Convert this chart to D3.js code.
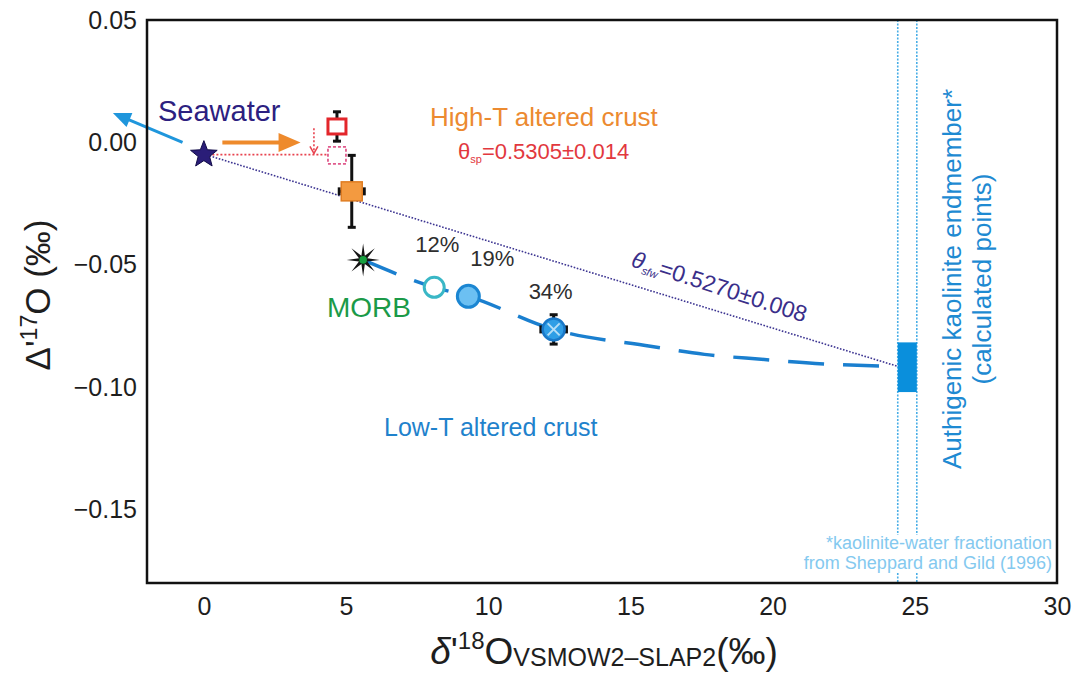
<!DOCTYPE html>
<html>
<head>
<meta charset="utf-8">
<script src="https://cdn.jsdelivr.net/npm/d3@7"></script>
<style>
body { margin: 0; background: #fff; }
svg { display: block; font-family: "Liberation Sans", Arial, sans-serif; }
</style>
</head>
<body>
<svg width="1077" height="675"></svg>
<script>
// values: x = δ'18O (‰), y = Δ'17O (‰)
const xDomain = [-2, 30];
const yDomain = [-0.18, 0.05];
const xTicks = [0, 5, 10, 15, 20, 25, 30];
const yTicks = [0.05, 0, -0.05, -0.10, -0.15];

const seawater = [0, -0.005];
const seawaterArrow = [[-0.75, 0.0], [-3.2, 0.012]];
const highTArrow = [[0.65, 0.0], [3.4, 0.0]];
const highTShift = [[3.87, 0.0058], [3.87, -0.0045]];
const highTMeasured = [4.68, 0.0065, 0.006];      // x, y, ±y
const highTCorrected = [4.68, -0.0053];
const highTCrust = [5.2, -0.020, 0.44, 0.0147];   // x, y, ±x, ±y
const morb = [5.6, -0.048];
const lowTLabels = ["12%", "19%", "34%"];
const lowTX = [8.1, 9.3, 12.3];
const lowTY = [-0.0592, -0.0629, -0.0764];
const lowTErr = [0.45, 0.006];                     // ±x, ±y of the 34% point
const mixingCurve = [[5.6, -0.048], [8.1, -0.0592], [9.3, -0.0629], [12.3, -0.0764],
  [15.7, -0.0833], [17.6, -0.0866], [19.6, -0.0886], [21.5, -0.0903], [24.05, -0.0915]];
const kaoliniteX = [24.4, 25.07];
const kaoliniteY = [-0.102, -0.0817];
const thetaLine = [[0.2, -0.0055], [24.4, -0.0915]];
const redGuide = [[0.3, -0.005], [4.35, -0.005]];

const svg = d3.select("svg");
const x = d3.scaleLinear().domain(xDomain).range([147, 1057]);
const y = d3.scaleLinear().domain(yDomain).range([583, 20]);

///////////////////////////////////////////////// axes
const xAxis = svg.append("g")
    .attr("transform", `translate(0,${y.range()[0]})`)
    .call(d3.axisBottom(x).tickValues(xTicks).tickSize(0).tickPadding(14))
    .attr("font-family", null).attr("font-size", 25);
xAxis.select(".domain").remove();
xAxis.selectAll("text").attr("fill", "#1e1e1e");

const yAxis = svg.append("g")
    .attr("transform", `translate(${x.range()[0]},0)`)
    .call(d3.axisLeft(y).tickValues(yTicks).tickFormat(d3.format(".2f")).tickSize(0).tickPadding(10))
    .attr("font-family", null).attr("font-size", 25);
yAxis.select(".domain").remove();
yAxis.selectAll("text").attr("fill", "#1e1e1e");

const xTitle = svg.append("text")
    .attr("x", 604).attr("y", 664)
    .attr("text-anchor", "middle").attr("fill", "#1e1e1e").attr("font-size", 37);
xTitle.append("tspan").attr("font-style", "italic").text("δ");
xTitle.append("tspan").text("'");
xTitle.append("tspan").attr("font-size", 24).attr("dy", -15).text("18");
xTitle.append("tspan").attr("dy", 15).text("O");
xTitle.append("tspan").attr("font-size", 25).attr("dy", 2).text("VSMOW2\u2013SLAP2");
xTitle.append("tspan").attr("dy", -2).text("(‰)");

const yTitle = svg.append("text")
    .attr("transform", "translate(50,295) rotate(-90)")
    .attr("text-anchor", "middle").attr("fill", "#1e1e1e").attr("font-size", 35);
yTitle.append("tspan").text("Δ'");
yTitle.append("tspan").attr("font-size", 23).attr("dy", -13).text("17");
yTitle.append("tspan").attr("dy", 13).text("O (‰)");

///////////////////////////////////////////////// kaolinite endmember band
const band = svg.append("g");
kaoliniteX.forEach(v => {
  band.append("line")
      .attr("x1", x(v)).attr("x2", x(v))
      .attr("y1", y(yDomain[1])).attr("y2", y(yDomain[0]))
      .attr("stroke", "#49aee6").attr("stroke-width", 1.6)
      .attr("stroke-dasharray", "2,1.5");
});

const note = svg.append("g")
    .attr("font-size", 18).attr("fill", "#84c9ef").attr("text-anchor", "end");
note.append("text").attr("x", 1052).attr("y", 549).text("*kaolinite-water fractionation");
note.append("text").attr("x", 1052).attr("y", 569).text("from Sheppard and Gild (1996)");
const nb = note.node().getBBox();
note.insert("rect", "text")
    .attr("x", nb.x - 2).attr("y", nb.y + 2)
    .attr("width", nb.width + 4).attr("height", nb.height - 2)
    .attr("fill", "#fff");

band.append("rect")
    .attr("x", x(kaoliniteX[0])).attr("width", x(kaoliniteX[1]) - x(kaoliniteX[0]))
    .attr("y", y(kaoliniteY[1])).attr("height", y(kaoliniteY[0]) - y(kaoliniteY[1]))
    .attr("fill", "#0a8fdc");

///////////////////////////////////////////////// lines
const line = d3.line().x(d => x(d[0])).y(d => y(d[1]));

svg.append("path")
    .attr("d", line(thetaLine))
    .attr("fill", "none").attr("stroke", "#3d3592")
    .attr("stroke-width", 1.6).attr("stroke-dasharray", "1.6,1.6");

svg.append("path")
    .attr("d", line.curve(d3.curveMonotoneX)(mixingCurve))
    .attr("fill", "none").attr("stroke", "#1a7fcf")
    .attr("stroke-width", 3.5).attr("stroke-dasharray", "36,19");
line.curve(d3.curveLinear);

svg.append("path")
    .attr("d", line(redGuide))
    .attr("fill", "none").attr("stroke", "#e8434f")
    .attr("stroke-width", 1.6).attr("stroke-dasharray", "2,2");

// small dotted down arrow
svg.append("path")
    .attr("d", line(highTShift))
    .attr("fill", "none").attr("stroke", "#e8434f")
    .attr("stroke-width", 1.6).attr("stroke-dasharray", "2,2");
const tip = [x(highTShift[1][0]), y(highTShift[1][1])];
svg.append("path")
    .attr("d", `M${tip[0] - 4},${tip[1] - 7}L${tip[0]},${tip[1]}L${tip[0] + 4},${tip[1] - 7}`)
    .attr("fill", "none").attr("stroke", "#e8434f").attr("stroke-width", 1.5);

drawArrow(seawaterArrow, "#1f96dc", 3, 18, 15);
drawArrow(highTArrow, "#ee8a2c", 4, 22, 19);

///////////////////////////////////////////////// points
errorBars(highTMeasured[0], highTMeasured[1], 0, highTMeasured[2]);
square(highTMeasured[0], highTMeasured[1], 18, 15)
    .attr("fill", "#fff").attr("stroke", "#e3262b").attr("stroke-width", 3);

square(highTCorrected[0], highTCorrected[1], 18, 17)
    .attr("fill", "#fff").attr("stroke", "#e05a8c")
    .attr("stroke-width", 1.8).attr("stroke-dasharray", "3,2");

errorBars(highTCrust[0], highTCrust[1], highTCrust[2], highTCrust[3]);
square(highTCrust[0], highTCrust[1], 21, 19)
    .attr("fill", "#f39a40").attr("stroke", "#e07d22").attr("stroke-width", 1.5);

svg.append("path")
    .attr("transform", `translate(${x(seawater[0])},${y(seawater[1])})`)
    .attr("d", starPath(5, 14, 6))
    .attr("fill", "#2a1d78").attr("stroke", "#120c48").attr("stroke-width", 1);

svg.append("path")
    .attr("transform", `translate(${x(morb[0])},${y(morb[1])})`)
    .attr("d", starPath(8, 16.5, 4.5))
    .attr("fill", "#141414");
svg.append("circle")
    .attr("cx", x(morb[0])).attr("cy", y(morb[1])).attr("r", 3.8)
    .attr("fill", "#18a040");

errorBars(lowTX[2], lowTY[2], lowTErr[0], lowTErr[1]);
const lowTStyle = [
  {r: 10, fill: "#fff", stroke: "#3ab7c6", w: 3},
  {r: 11, fill: "#6cc0f2", stroke: "#1b86d2", w: 3},
  {r: 11, fill: "#2f9ee6", stroke: "#1a78c8", w: 2.5}
];
lowTX.forEach((v, i) => {
  svg.append("circle")
      .attr("cx", x(v)).attr("cy", y(lowTY[i])).attr("r", lowTStyle[i].r)
      .attr("fill", lowTStyle[i].fill).attr("stroke", lowTStyle[i].stroke)
      .attr("stroke-width", lowTStyle[i].w);
});
const cx34 = x(lowTX[2]), cy34 = y(lowTY[2]);
svg.append("path")
    .attr("d", `M${cx34 - 6},${cy34 - 6}L${cx34 + 6},${cy34 + 6}M${cx34 + 6},${cy34 - 6}L${cx34 - 6},${cy34 + 6}`)
    .attr("stroke", "#b5def7").attr("stroke-width", 2);

///////////////////////////////////////////////// labels
const pctOffset = [[3, -35], [24, -30], [-3, -30]];
lowTLabels.forEach((t, i) => {
  svg.append("text")
      .attr("x", x(lowTX[i]) + pctOffset[i][0]).attr("y", y(lowTY[i]) + pctOffset[i][1])
      .attr("text-anchor", "middle").attr("font-size", 22).attr("fill", "#2e2e2e")
      .text(t);
});

svg.append("text").attr("x", 158).attr("y", 121)
    .attr("font-size", 29).attr("fill", "#2c2080").text("Seawater");
svg.append("text").attr("x", 430).attr("y", 126)
    .attr("font-size", 26).attr("fill", "#ec8a30").text("High-T altered crust");
svg.append("text").attr("x", 327).attr("y", 317)
    .attr("font-size", 28).attr("fill", "#1b9a48").text("MORB");
svg.append("text").attr("x", 384).attr("y", 436)
    .attr("font-size", 25).attr("fill", "#1f82cc").text("Low-T altered crust");

const thetaSp = svg.append("text").attr("x", 458).attr("y", 159)
    .attr("font-size", 22).attr("fill", "#e2383e");
thetaSp.append("tspan").text("θ");
thetaSp.append("tspan").attr("font-size", 11).attr("dy", 4).text("sp");
thetaSp.append("tspan").attr("dy", -4).text("=0.5305±0.014");

const thetaSfw = svg.append("text").attr("transform", "translate(630,266) rotate(18)")
    .attr("font-size", 23).attr("fill", "#3a2f8a");
thetaSfw.append("tspan").attr("font-style", "italic").text("θ");
thetaSfw.append("tspan").attr("font-size", 11).attr("font-style", "italic").attr("dy", 4).text("sfw");
thetaSfw.append("tspan").attr("dy", -4).text("=0.5270±0.008");

svg.append("text").attr("transform", "translate(961,279) rotate(-90)")
    .attr("text-anchor", "middle").attr("font-size", 26).attr("fill", "#1e8ad2")
    .text("Authigenic kaolinite endmember*");
svg.append("text").attr("transform", "translate(991,279) rotate(-90)")
    .attr("text-anchor", "middle").attr("font-size", 26).attr("fill", "#1e8ad2")
    .text("(calculated points)");

// frame
svg.append("rect")
    .attr("x", x.range()[0]).attr("y", y.range()[1])
    .attr("width", x.range()[1] - x.range()[0]).attr("height", y.range()[0] - y.range()[1])
    .attr("fill", "none").attr("stroke", "#111").attr("stroke-width", 2.5);

/////////////////////////////////////////////////
function starPath(n, R, r) {
  const pts = [];
  for (let i = 0; i < 2 * n; i++) {
    const a = Math.PI * i / n - Math.PI / 2;
    const rad = i % 2 ? r : R;
    pts.push([rad * Math.cos(a), rad * Math.sin(a)]);
  }
  return "M" + pts.join("L") + "Z";
}

function square(cx, cy, w, h) {
  return svg.append("rect")
      .attr("x", x(cx) - w / 2).attr("y", y(cy) - h / 2)
      .attr("width", w).attr("height", h);
}

function errorBars(cx, cy, ex, ey) {
  const g = svg.append("g").attr("stroke", "#111").attr("stroke-width", 3);
  const px = x(cx), py = y(cy);
  if (ey) {
    g.append("line").attr("x1", px).attr("x2", px).attr("y1", y(cy + ey)).attr("y2", y(cy - ey));
    [cy + ey, cy - ey].forEach(v => g.append("line")
        .attr("x1", px - 4).attr("x2", px + 4).attr("y1", y(v)).attr("y2", y(v)));
  }
  if (ex) {
    g.append("line").attr("y1", py).attr("y2", py).attr("x1", x(cx - ex)).attr("x2", x(cx + ex));
    [cx - ex, cx + ex].forEach(v => g.append("line")
        .attr("y1", py - 4).attr("y2", py + 4).attr("x1", x(v)).attr("x2", x(v)));
  }
}

function drawArrow(pts, color, w, len, wid) {
  const x0 = x(pts[0][0]), y0 = y(pts[0][1]), x1 = x(pts[1][0]), y1 = y(pts[1][1]);
  const d = Math.hypot(x1 - x0, y1 - y0), ux = (x1 - x0) / d, uy = (y1 - y0) / d;
  svg.append("line")
      .attr("x1", x0).attr("y1", y0)
      .attr("x2", x1 - ux * len * 0.8).attr("y2", y1 - uy * len * 0.8)
      .attr("stroke", color).attr("stroke-width", w);
  const bx = x1 - ux * len, by = y1 - uy * len;
  svg.append("path")
      .attr("d", `M${x1},${y1}L${bx - uy * wid / 2},${by + ux * wid / 2}L${bx + uy * wid / 2},${by - ux * wid / 2}Z`)
      .attr("fill", color);
}
</script>
</body>
</html>
